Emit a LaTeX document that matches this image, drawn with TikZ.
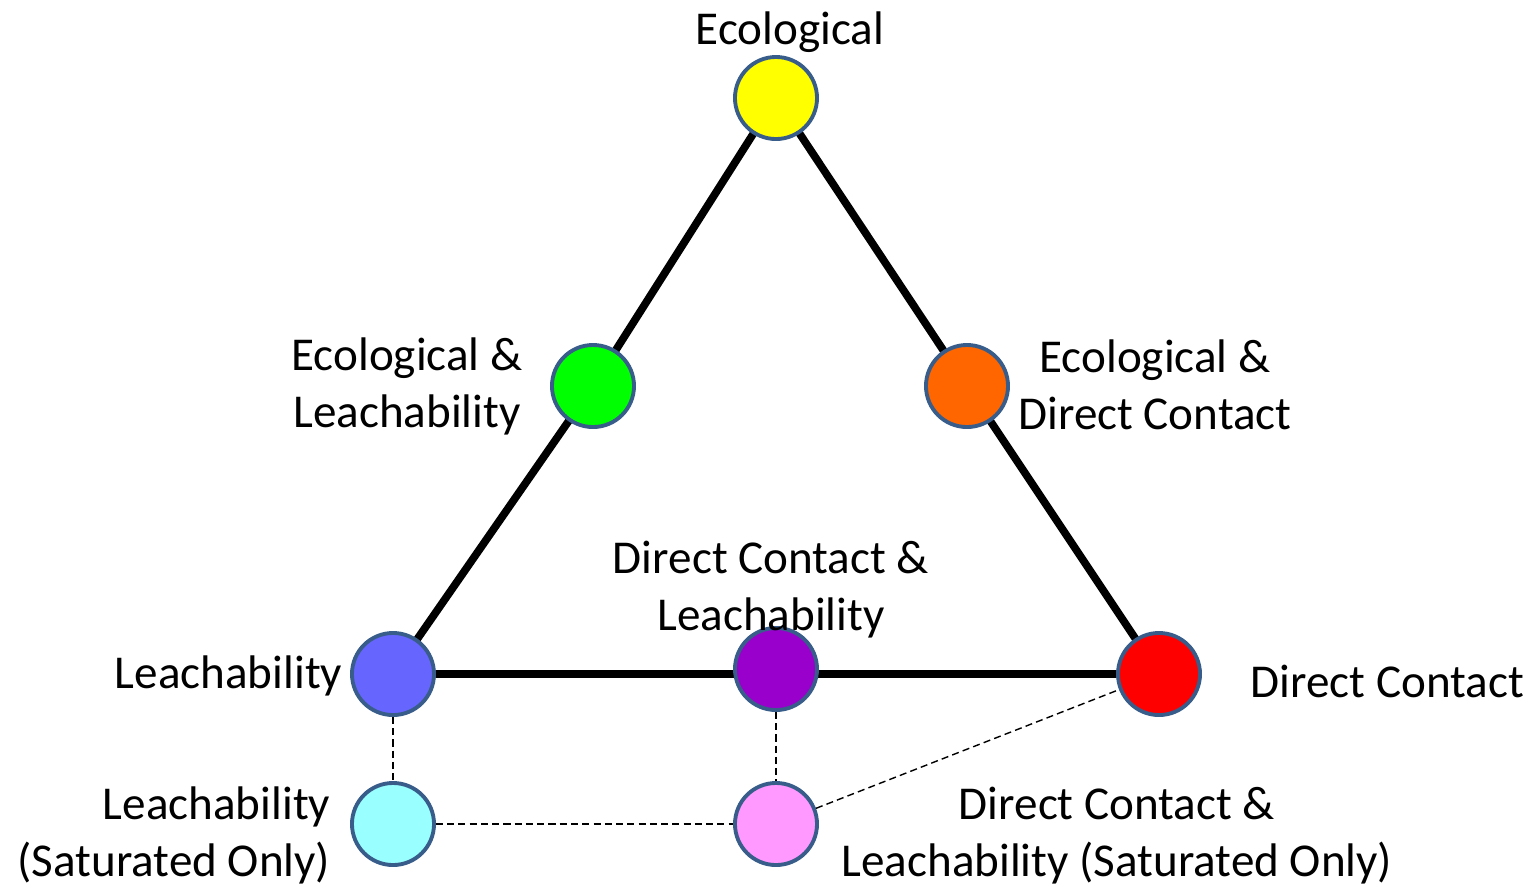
\documentclass[tikz,border=0pt]{standalone}
\usepackage{fontspec}
\setmainfont{Carlito}
\usepackage{tikz}
\usepackage{xcolor}
\usetikzlibrary{backgrounds}
\definecolor{rimblue}{HTML}{385D8A}
\definecolor{ecoyellow}{HTML}{FFFF00}
\definecolor{ecogreen}{HTML}{00FF00}
\definecolor{ecoorange}{HTML}{FF6600}
\definecolor{leachblue}{HTML}{6666FF}
\definecolor{mixpurple}{HTML}{9900CC}
\definecolor{contactred}{HTML}{FF0000}
\definecolor{satcyan}{HTML}{99FFFF}
\definecolor{satpink}{HTML}{FF99FF}
\tikzset{
  dot/.style={circle,draw=rimblue,line width=1.1pt,minimum size=0.82cm,inner sep=0pt,fill=#1},
  edge/.style={line width=2.2pt},
  satedge/.style={line width=0.4pt,dash pattern=on 2pt off 1.2pt},
  lbl/.style={font=\fontsize{13.4}{16.2}\selectfont,inner sep=0pt,align=center}
}

\begin{document}
\begin{tikzpicture}[x=0.01cm,y=-0.01cm]
\useasboundingbox (0,0) rectangle (1535,890);
% the circles
\node[dot=ecoyellow] (eco) at (776,98) {};
\node[dot=ecogreen] (ecoleach) at (593,386) {};
\node[dot=ecoorange] (ecodc) at (967,386) {};
\node[dot=leachblue] (leach) at (393,674) {};
\node[dot=mixpurple] (dcleach) at (776,669) {};
\node[dot=contactred] (dc) at (1159,674) {};
\node[dot=satcyan] (leachsat) at (393,824) {};
\node[dot=satpink] (dcleachsat) at (776,824) {};

% triangle, under the circles
\begin{scope}[on background layer]
\draw[edge] (eco.center) -- (ecoleach.center) -- (leach.center);
\draw[edge] (eco.center) -- (ecodc.center) -- (dc.center);
\draw[edge] (leach.center) -- (dc.center);
\end{scope}

% saturated only
\draw[satedge] (leach) -- (leachsat);
\draw[satedge] (dcleach) -- (dcleachsat);
\draw[satedge] (leachsat) -- (dcleachsat);
\draw[satedge] (dcleachsat) -- (dc);

% labels
\node[lbl] (ecotxt) at (790,32) {Ecological};
\node[lbl] (ecoleachtxt) at (407,386) {Ecological \&\\Leachability};
\node[lbl] (ecodctxt) at (1155,385) {Ecological \&\\Direct Contact};
\node[lbl] (dcleachtxt) at (771,590) {Direct Contact \&\\Leachability};
\node[lbl,anchor=east] (leachtxt) at (343,676) {Leachability};
\node[lbl,anchor=west] (dctxt) at (1250,681) {Direct Contact};
\node[lbl,anchor=east,align=right] (leachsattxt) at (331,835) {Leachability\\(Saturated Only)};
\node[lbl] (dcleachsattxt) at (1117,836) {Direct Contact \&\\Leachability (Saturated Only)};
\end{tikzpicture}
\end{document}
